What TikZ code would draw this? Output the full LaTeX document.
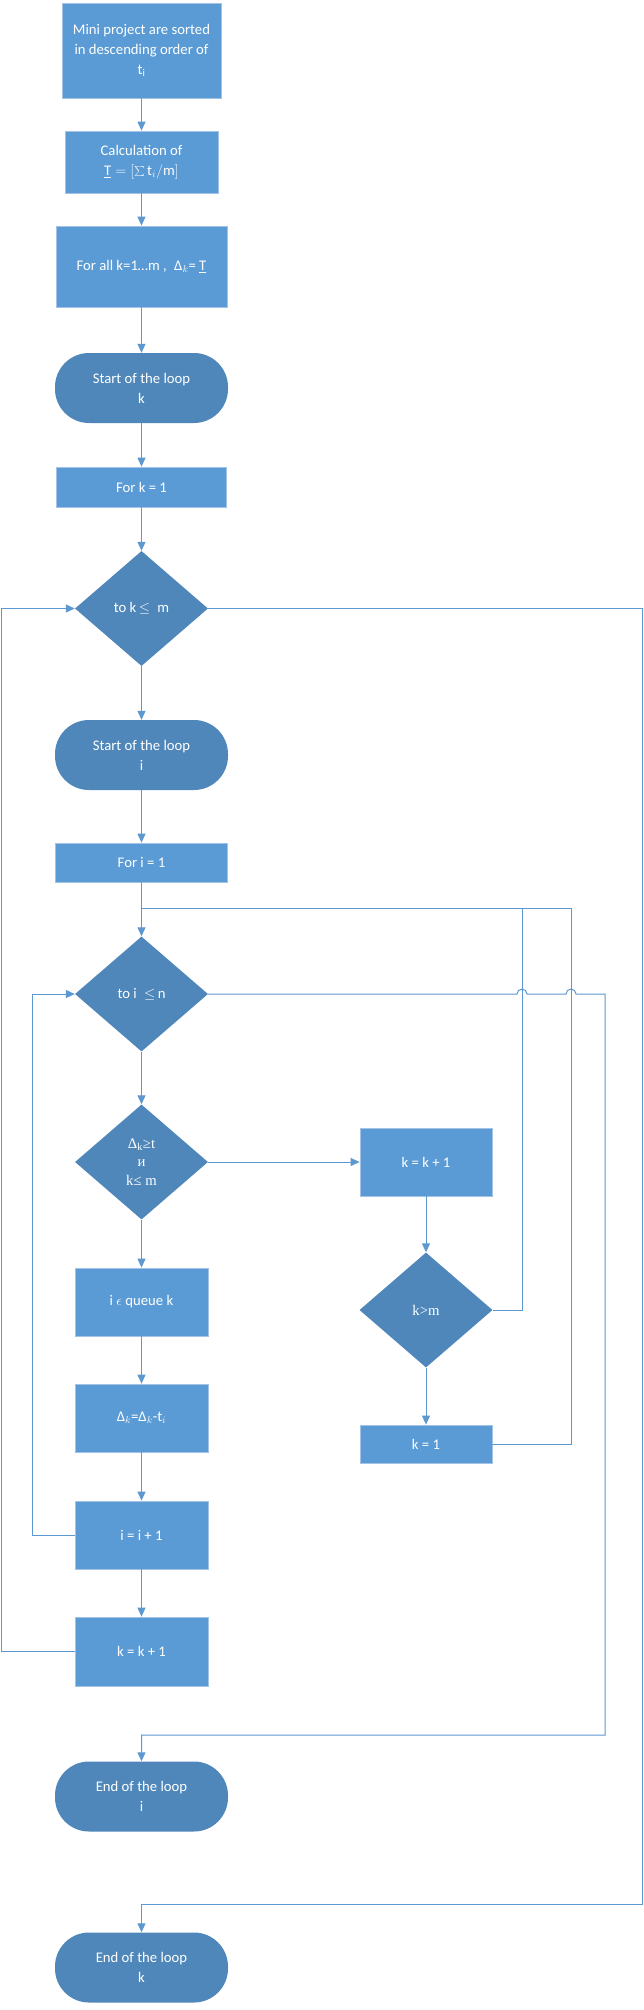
\documentclass[tikz,border=0pt]{standalone}
\usepackage{fontspec}
\setmainfont{Carlito}
\newfontfamily\flowserif{Liberation Serif}
\usetikzlibrary{shapes.geometric, arrows.meta, positioning, calc}
\definecolor{flowblue}{HTML}{5B9BD5}
\definecolor{flowdark}{HTML}{4F87BA}
\definecolor{flowedge}{HTML}{A3C3E6}
\definecolor{flowline}{HTML}{5E98D0}
\newcommand{\flowfont}{\fontsize{14.7}{20}\selectfont}

\tikzset{
  procbox/.style={rectangle, fill=flowblue, draw=flowedge, line width=0.8pt,
                  text=white, align=center, inner sep=0pt, font=\flowfont},
  decide/.style={diamond, fill=flowdark, text=white, align=center,
                 inner sep=0pt, aspect=1.16, minimum width=133pt,
                 minimum height=115pt, font=\flowfont},
  terminal/.style={rectangle, rounded corners=34pt, fill=flowdark,
                   text=white, align=center, minimum width=173pt,
                   minimum height=70pt, font=\flowfont},
  wire/.style={draw=flowline, line width=1pt},
  link/.style={wire, -{Triangle[length=9pt,width=8pt]}},
}

\begin{document}
\begin{tikzpicture}[x=1pt, y=1pt]
  \useasboundingbox (0,0) rectangle (644,-2010);
  \fill[white] (0,0) rectangle (644,-2010);
  %% Set-up blocks ─────────────────────────────────────────────
  \node[procbox, minimum width=159pt, minimum height=95pt] (sort)
    at (141.5,-50.5) {Mini project are sorted\\in descending order of\\$\mathrm{t}_{\mathrm{i}}$};
  \node[procbox, minimum width=153pt, minimum height=62pt] (calc)
    at (141.5,-162) {Calculation of\\$\underline{\mathrm{T}} = [\sum \mathrm{t}_i/\mathrm{m}]$};
  \node[procbox, minimum width=171pt, minimum height=81pt] (forall)
    at (141.5,-266.5) {For all k=1…m ,\enspace Δ$_k$= $\underline{\mathrm{T}}$};
  %% Loop over k ───────────────────────────────────────────────
  \node[terminal] (startk) at (141.5,-388) {Start of the loop\\k};
  \node[procbox, minimum width=170pt, minimum height=40pt] (fork)
    at (141.5,-487) {For k = 1};
  \node[decide] (dk) at (141.5,-608.5) {to k\,$\le$\enspace m};
  %% Loop over i ───────────────────────────────────────────────
  \node[terminal] (starti) at (141.5,-755) {Start of the loop\\i};
  \node[procbox, minimum width=172pt, minimum height=39pt] (fori)
    at (141.5,-862.5) {For i = 1};
  \node[decide] (di) at (141.5,-994) {to i\enspace$\le$\,n};
  \node[decide, font=\flowserif\fontsize{14.7}{18.5}\selectfont] (dcond)
    at (141.5,-1162) {Δ\textsubscript{k}≥t\\и\\k≤ m};
  \node[procbox, minimum width=133pt, minimum height=68pt] (queue)
    at (141.5,-1302) {i $\epsilon$ queue k};
  \node[procbox, minimum width=133pt, minimum height=68pt] (delta)
    at (141.5,-1418) {Δ$_k$=Δ$_k$-t$_i$};
  \node[procbox, minimum width=133pt, minimum height=68pt] (iinc)
    at (141.5,-1535) {i = i + 1};
  \node[procbox, minimum width=133pt, minimum height=69pt] (kinc2)
    at (141.5,-1651.5) {k = k + 1};
  %% Right branch ──────────────────────────────────────────────
  \node[procbox, minimum width=132pt, minimum height=68pt] (kinc)
    at (426,-1162) {k = k + 1};
  \node[decide, font=\flowserif\fontsize{14.7}{18.5}\selectfont] (dkm)
    at (426,-1310) {k>m};
  \node[procbox, minimum width=132pt, minimum height=38pt] (kone)
    at (426,-1444) {k = 1};
  %% Loop ends ─────────────────────────────────────────────────
  \node[terminal] (endi) at (141.5,-1796.5) {End of the loop\\i};
  \node[terminal] (endk) at (141.5,-1967.5) {End of the loop\\k};

  %% Connectors ────────────────────────────────────────────────
  \coordinate (jn) at (141.5,-908);
  \coordinate (v1) at (522,-908);
  \coordinate (v2) at (571,-908);
  \coordinate (li) at (32,0);
  \coordinate (lk) at (1.5,0);
  \coordinate (ri) at (605,-1735);
  \coordinate (rk) at (642.5,-1904);
  \draw[link] (sort) -- (calc);
  \draw[link] (calc) -- (forall);
  \draw[link] (forall) -- (startk);
  \draw[link] (startk) -- (fork);
  \draw[link] (fork) -- (dk);
  \draw[link] (dk) -- (starti);
  \draw[link] (starti) -- (fori);
  \draw[link] (fori) -- (di);
  \draw[link] (di) -- (dcond);
  \draw[link] (dcond) -- (queue);
  \draw[link] (queue) -- (delta);
  \draw[link] (delta) -- (iinc);
  \draw[link] (iinc) -- (kinc2);
  \draw[link] (dcond.east) -- (kinc.west);
  \draw[link] (kinc) -- (dkm);
  \draw[link] (dkm) -- (kone);
  % back to the i test
  \draw[wire] (dkm.east) -| (v1) -- (jn);
  \draw[wire] (kone.east) -| (v2) -- (v1);
  \draw[link] (iinc.west) -| (li |- di.west) -- (di.west);
  \draw[link] (kinc2.west) -| (lk |- dk.west) -- (dk.west);
  % exits of the two loops
  \draw[link] (di.east) -- ($(di.east -| v1)+(-5,0)$)
    arc[start angle=180, end angle=0, radius=5]
    -- ($(di.east -| v2)+(-5,0)$)
    arc[start angle=180, end angle=0, radius=5]
    -- (di.east -| ri) -- (ri) -| (endi.north);
  \draw[link] (dk.east) -- (dk.east -| rk) -- (rk) -| (endk.north);
\end{tikzpicture}
\end{document}
